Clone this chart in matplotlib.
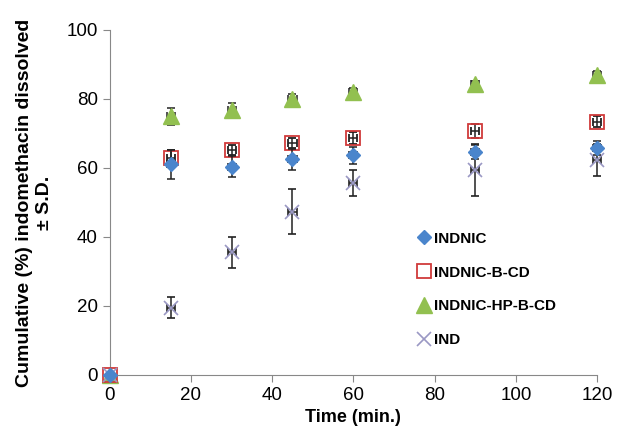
import numpy as np
import matplotlib.pyplot as plt

plt.rcParams['font.family'] = ['Liberation Sans', 'DejaVu Sans']

time = [0, 15, 30, 45, 60, 90, 120]
time_err = [0, 1, 1, 1, 1, 1, 1]

indnic = [0, 61.0, 60.4, 62.5, 63.6, 64.7, 65.7]
indnic_sd = [0, 4.3, 3.0, 3.0, 2.6, 2.0, 2.0]

indnic_bcd = [0, 62.8, 65.2, 67.2, 68.6, 70.7, 73.4]
indnic_bcd_sd = [0, 2.5, 1.5, 1.5, 1.8, 2.0, 1.5]

indnic_hpbcd = [0, 74.9, 76.8, 79.9, 82.1, 84.3, 87.0]
indnic_hpbcd_sd = [0, 2.5, 2.0, 1.5, 1.2, 1.0, 1.0]

ind = [0, 19.5, 35.5, 47.3, 55.6, 59.5, 62.3]
ind_sd = [0, 3.0, 4.5, 6.5, 3.7, 7.5, 4.5]

fig = plt.figure(figsize=(6.2, 4.33), dpi=100)
ax = fig.add_axes([0.177, 0.134, 0.786, 0.797])

ebkw = dict(ecolor='#222222', elinewidth=1.1, capsize=3, capthick=1.1, linestyle='none')

ax.errorbar(time, indnic_hpbcd, yerr=indnic_hpbcd_sd, xerr=time_err, marker='^', ms=11,
            mfc='#92c050', mec='#92c050', label='INDNIC-HP-B-CD', zorder=3, **ebkw)
ax.errorbar(time, indnic_bcd, yerr=indnic_bcd_sd, xerr=time_err, marker='s', ms=10,
            mfc='none', mec='#d03a3a', mew=1.3, label='INDNIC-B-CD', zorder=3, **ebkw)
ax.errorbar(time, indnic, yerr=indnic_sd, xerr=time_err, marker='D', ms=7,
            mfc='#4a85cc', mec='#4a85cc', label='INDNIC', zorder=4, **ebkw)
ax.errorbar(time, ind, yerr=ind_sd, xerr=time_err, marker='x', ms=10, mew=1.2,
            mec='#9a98c4', color='#9a98c4', label='IND', zorder=3, **ebkw)

ax.set_xlim(0, 120)
ax.set_ylim(0, 100)
ax.set_xticks(np.arange(0, 121, 20))
ax.set_yticks(np.arange(0, 101, 20))
ax.tick_params(labelsize=13.5, color='#888888', length=5)
for s in ['top', 'right']:
    ax.spines[s].set_visible(False)
for s in ['left', 'bottom']:
    ax.spines[s].set_color('#888888')
for c in ax.get_children():
    c.set_clip_on(False)

ax.set_xlabel('Time (min.)', fontsize=13, fontweight='bold')
ax.set_ylabel('Cumulative (%) indomethacin dissolved\n\u00b1 S.D.', fontsize=14,
              fontweight='bold', labelpad=10)

h, l = ax.get_legend_handles_labels()
order = [2, 1, 0, 3]
handles = [h[i][0] for i in order]
ax.legend(handles, [l[i] for i in order], loc='upper left', bbox_to_anchor=(0.597, 0.455),
          frameon=False, prop={'weight': 'bold', 'size': 11}, handletextpad=0.1,
          handlelength=1.2, labelspacing=1.3)

fig.savefig('out.png', dpi=100)
